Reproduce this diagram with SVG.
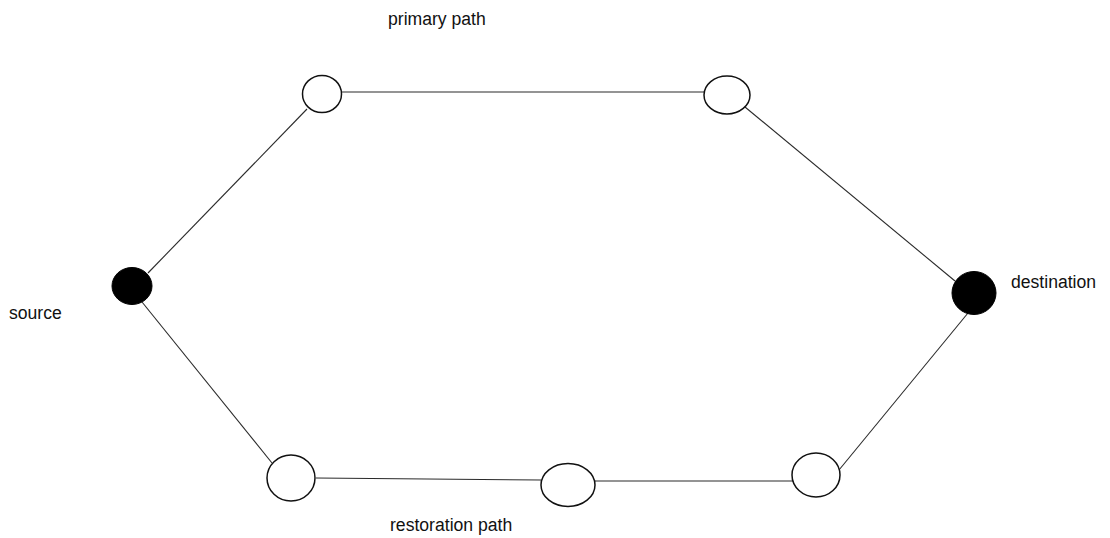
<svg xmlns="http://www.w3.org/2000/svg" width="1110" height="538" viewBox="0 0 1110 538">
  <style>
    .edge { stroke: #2a2a2a; stroke-width: 1.1; fill: none; }
    .node { fill: #fff; stroke: #111; stroke-width: 1.5; }
    .end { fill: #000; stroke: #000; stroke-width: 1; }
    .label { font-family: "Liberation Sans", Arial, sans-serif; font-size: 17.6px; fill: #111; }
  </style>
  <rect width="1110" height="538" fill="#fff"/>
  <!-- links between the nodes -->
  <g id="connectors">
    <line class="edge" x1="342" y1="92" x2="704" y2="92"/>
    <line class="edge" x1="307" y1="109" x2="148" y2="273"/>
    <line class="edge" x1="745" y1="107" x2="955" y2="281"/>
    <line class="edge" x1="142" y1="302" x2="272" y2="463"/>
    <line class="edge" x1="316" y1="478" x2="541" y2="480"/>
    <line class="edge" x1="595" y1="481" x2="799" y2="481"/>
    <line class="edge" x1="839" y1="470" x2="968" y2="313"/>
  </g>
  <g id="node-source">
    <ellipse class="end" cx="132" cy="286" rx="20" ry="18.5"/>
  </g>
  <g id="node-destination">
    <ellipse class="end" cx="974" cy="293" rx="22" ry="21.5"/>
  </g>
  <g id="node-p1">
    <ellipse class="node" cx="322" cy="94" rx="19.5" ry="18.5"/>
  </g>
  <g id="node-p2">
    <ellipse class="node" cx="727" cy="95" rx="23" ry="19"/>
  </g>
  <g id="node-r1">
    <ellipse class="node" cx="291" cy="478" rx="24" ry="23"/>
  </g>
  <g id="node-r2">
    <ellipse class="node" cx="568" cy="485" rx="27" ry="21.5"/>
  </g>
  <g id="node-r3">
    <ellipse class="node" cx="816" cy="475" rx="24" ry="22"/>
  </g>
  <g id="labels">
    <text class="label" x="388" y="25">primary path</text>
    <text class="label" x="9" y="319">source</text>
    <text class="label" x="1011" y="288">destination</text>
    <text class="label" x="390" y="531">restoration path</text>
  </g>
</svg>
